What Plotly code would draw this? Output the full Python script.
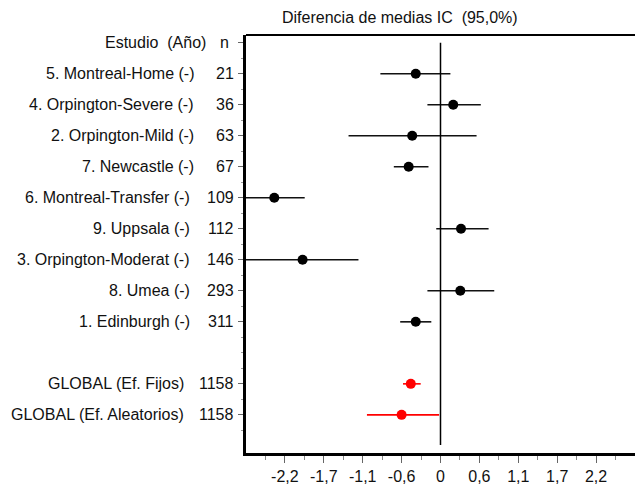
import plotly.graph_objects as go

# ---- data ----
studies = ["5. Montreal-Home (-)", "4. Orpington-Severe (-)", "2. Orpington-Mild (-)",
           "7. Newcastle (-)", "6. Montreal-Transfer (-)", "9. Uppsala (-)",
           "3. Orpington-Moderat (-)", "8. Umea (-)", "1. Edinburgh (-)"]
n_studies = [21, 36, 63, 67, 109, 112, 146, 293, 311]
est_studies = [-0.35, 0.18, -0.40, -0.45, -2.35, 0.29, -1.95, 0.28, -0.35]
lo_studies = [-0.85, -0.185, -1.30, -0.66, -2.80, -0.06, -2.80, -0.185, -0.57]
hi_studies = [0.14, 0.57, 0.51, -0.17, -1.92, 0.68, -1.16, 0.76, -0.13]

global_labels = ["GLOBAL (Ef. Fijos)", "GLOBAL (Ef. Aleatorios)"]
n_global = [1158, 1158]
est_global = [-0.42, -0.55]
lo_global = [-0.53, -1.04]
hi_global = [-0.28, -0.02]

x_tickvals = [-2.2, -1.65, -1.1, -0.55, 0, 0.55, 1.1, 1.65, 2.2]
x_ticktext = ["-2,2", "-1,7", "-1,1", "-0,6", "0", "0,6", "1,1", "1,7", "2,2"]

title_text = "Diferencia de medias IC  (95,0%)"
header_label = "Estudio  (Año)"
header_n = "n"

# ---- layout helpers ----
PLOT_LEFT = 246
FONT = "Liberation Sans, Arial, sans-serif"
FS = 16

study_rows = list(range(1, 1 + len(studies)))
global_rows = [len(studies) + 2 + i for i in range(len(global_labels))]

def seg(lo, hi, rows):
    xs, ys = [], []
    for a, b, r in zip(lo, hi, rows):
        xs += [a, b, None]
        ys += [r, r, None]
    return xs, ys

fig = go.Figure()

xs, ys = seg(lo_studies, hi_studies, study_rows)
fig.add_trace(go.Scatter(x=xs, y=ys, mode="lines", line=dict(color="#111111", width=1.6),
                         hoverinfo="skip", showlegend=False))
fig.add_trace(go.Scatter(x=est_studies, y=study_rows, mode="markers",
                         marker=dict(color="black", size=10, symbol="circle"),
                         showlegend=False))
xs, ys = seg(lo_global, hi_global, global_rows)
fig.add_trace(go.Scatter(x=xs, y=ys, mode="lines", line=dict(color="#ff0000", width=1.6),
                         hoverinfo="skip", showlegend=False))
fig.add_trace(go.Scatter(x=est_global, y=global_rows, mode="markers",
                         marker=dict(color="#ff0000", size=10, symbol="circle"),
                         showlegend=False))

# reference line at 0
fig.add_shape(type="line", xref="x", yref="y", x0=0, x1=0, y0=0, y1=12.97,
              line=dict(color="black", width=1.5))
# top border
fig.add_shape(type="line", xref="paper", yref="paper", x0=0, x1=1, y0=1, y1=1,
              line=dict(color="black", width=2))

def label(text, row, right_px):
    fig.add_annotation(text=text, xref="paper", yref="y", x=0, y=row,
                       xanchor="right", yanchor="middle", showarrow=False,
                       xshift=right_px - PLOT_LEFT + 1,
                       font=dict(family=FONT, size=FS, color="#111111"))

label(header_label, 0, 207)
label(header_n, 0, 230)
label_right = {2: 195, 3: 191, 4: 185}
for name, n, r in zip(studies, n_studies, study_rows):
    label(name, r, label_right[len(str(n))])
    label(str(n), r, 235)
for name, n, r in zip(global_labels, n_global, global_rows):
    label(name, r, label_right[len(str(n))])
    label(str(n), r, 235)

fig.add_annotation(text=title_text, xref="paper", yref="paper", x=0.396, y=1.0407,
                   xanchor="center", yanchor="middle", showarrow=False,
                   font=dict(family=FONT, size=FS, color="#111111"))

major_rows = [0] + study_rows + global_rows
minor_rows = [r + 0.5 for r in range(-1, 13)] + [10]
minor_x = [v + 0.275 for v in [-2.75] + x_tickvals]

fig.update_layout(
    width=635, height=486,
    margin=dict(l=PLOT_LEFT, r=0, t=35, b=33),
    paper_bgcolor="white", plot_bgcolor="white",
    font=dict(family=FONT, size=FS, color="#111111"),
    xaxis=dict(range=[-2.75, 2.75], tickmode="array", tickvals=x_tickvals, ticktext=x_ticktext,
               ticks="outside", ticklen=7, tickwidth=1, tickcolor="#666666",
               showline=True, linecolor="black", linewidth=3, mirror=False,
               showgrid=False, zeroline=False, fixedrange=True,
               tickfont=dict(family=FONT, size=FS, color="#111111"),
               minor=dict(tickmode="array", tickvals=minor_x, ticks="outside",
                          ticklen=4, tickcolor="#888888", tickwidth=1, showgrid=False)),
    yaxis=dict(range=[13.23, -0.25], tickmode="array", tickvals=major_rows,
               showticklabels=False, ticks="outside", ticklen=5, tickwidth=1,
               tickcolor="#666666", showline=True, linecolor="black", linewidth=3,
               showgrid=False, zeroline=False, fixedrange=True,
               minor=dict(tickmode="array", tickvals=minor_rows, ticks="outside",
                          ticklen=2, tickcolor="#999999", tickwidth=1, showgrid=False)),
)

fig.write_html("out.html")
